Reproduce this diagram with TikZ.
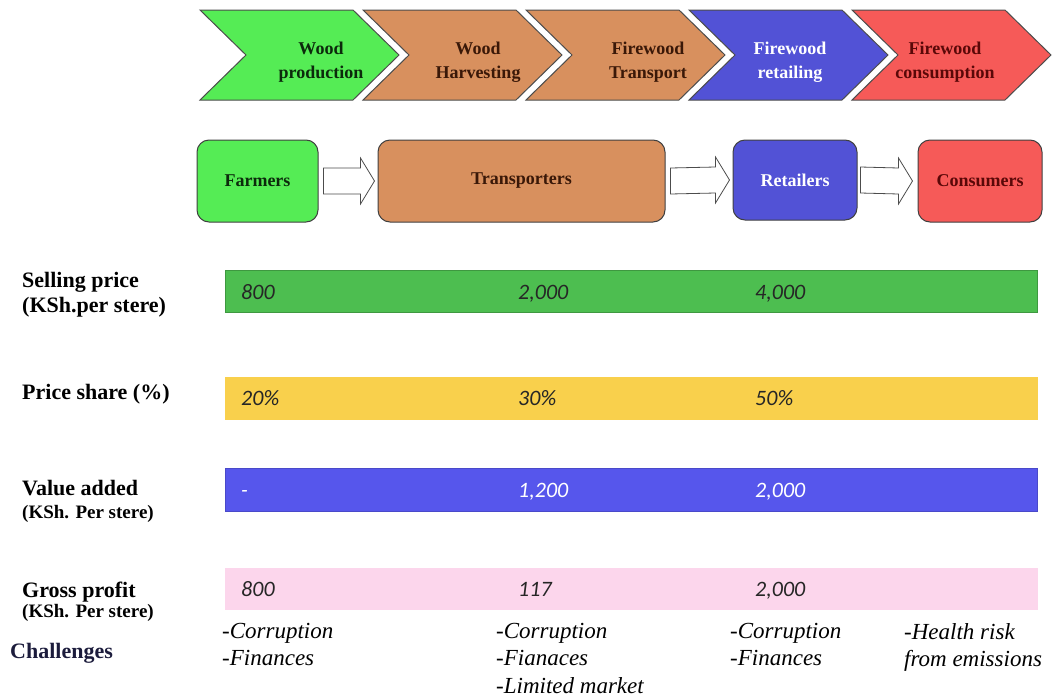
\documentclass[tikz,border=0pt]{standalone}
\usepackage{fontspec}
\setmainfont{Liberation Serif}
\newfontfamily\valfont{Carlito}
\usetikzlibrary{calc}
\definecolor{cgreen}{HTML}{55EC55}
\definecolor{cbrown}{HTML}{D8905E}
\definecolor{cblue}{HTML}{5252D6}
\definecolor{cred}{HTML}{F65A58}
\definecolor{bgreen}{HTML}{4DBE50}
\definecolor{byellow}{HTML}{F9D04C}
\definecolor{bblue}{HTML}{5656EC}
\definecolor{bpink}{HTML}{FCD6EC}
\definecolor{navy}{HTML}{1C1C3C}
\definecolor{dgreentext}{HTML}{0C2A0C}
\definecolor{dbrowntext}{HTML}{3A1808}
\definecolor{dredtext}{HTML}{5A0808}
\newcommand\chevronshape[2]{\draw[chev, fill=#2] (#1,10) -- ++(153,0) -- ++(46,45) -- ++(-46,45) -- ++(-153,0) -- ++(46,-45) -- cycle;}
\newcommand\blockarrowpath[2]{\draw[barrow] ($(#1)+(0,-13)$) -- ($(#2)+(-14,-13)$) -- ($(#2)+(-14,-23)$) -- (#2) -- ($(#2)+(-14,23)$) -- ($(#2)+(-14,13)$) -- ($(#1)+(0,13)$) -- cycle;}
\begin{document}
\begin{tikzpicture}[x=1pt,y=-1pt,
  chev/.style={draw=black!70, line width=1pt},
  chevtext/.style={align=center, inner sep=0pt, font=\bfseries\fontsize{18}{24}\selectfont},
  actor/.style={draw=black!75, line width=1pt, rounded corners=12pt, font=\bfseries\fontsize{18}{20}\selectfont},
  barrow/.style={draw=black!70, fill=white, line width=0.8pt},
  bar/.style={line width=0.6pt},
  lab/.style={anchor=base west, inner sep=0pt, font=\bfseries\fontsize{22}{24}\selectfont},
  labsmall/.style={anchor=base west, inner sep=0pt, font=\bfseries\fontsize{19}{21}\selectfont},
  val/.style={anchor=base west, inner sep=0pt, text=black!85, font=\valfont\itshape\fontsize{22}{24}\selectfont},
  chal/.style={anchor=north west, align=left, inner sep=0pt, font=\itshape\fontsize{23}{27.5}\selectfont}
]
\useasboundingbox (0,0) rectangle (1052,699);

% process chevrons
\chevronshape{200}{cgreen}
\chevronshape{363}{cbrown}
\chevronshape{526}{cbrown}
\chevronshape{689}{cblue}
\chevronshape{852}{cred}
\node[chevtext, text=dgreentext] (c1) at (321,62) {Wood\\production};
\node[chevtext, text=dbrowntext] (c2) at (478,62) {Wood\\Harvesting};
\node[chevtext, text=dbrowntext] (c3) at (648,62) {Firewood\\Transport};
\node[chevtext, text=white] (c4) at (790,62) {Firewood\\retailing};
\node[chevtext, text=dredtext] (c5) at (945,62) {Firewood\\consumption};

% actors
\node[actor, fill=cgreen, text=dgreentext, minimum width=121pt, minimum height=82pt] (farm) at (257.5,181) {Farmers};
\node[actor, fill=cbrown, text=dbrowntext, minimum width=287pt, minimum height=82pt] (trans) at (521.5,181) {Transporters};
\node[actor, fill=cblue, text=white, minimum width=124pt, minimum height=80pt] (ret) at (795,180) {Retailers};
\node[actor, fill=cred, text=dredtext, minimum width=124pt, minimum height=82pt] (cons) at (980,181) {Consumers};

\coordinate (a1s) at ($(farm.east)+(5,0)$);
\coordinate (a1e) at ($(trans.west)+(-3,0)$);
\coordinate (a2s) at ($(trans.east)+(5,0)$);
\coordinate (a2e) at ($(ret.west)+(-3,0)$);
\coordinate (a3s) at ($(ret.east)+(3,0)$);
\coordinate (a3e) at ($(cons.west)+(-5,0)$);
\blockarrowpath{a1s}{a1e}
\blockarrowpath{a2s}{a2e}
\blockarrowpath{a3s}{a3e}

% bars
\draw[bar, fill=bgreen, draw=bgreen!80!black] (225,270) rectangle (1037,312);
\draw[bar, fill=byellow, draw=byellow] (225,377) rectangle (1037,419);
\draw[bar, fill=bblue, draw=bblue!85!black] (225,468) rectangle (1037,511);
\draw[bar, fill=bpink, draw=bpink] (225,568) rectangle (1037,609);

% row labels
\node[lab] (l1a) at (22,287) {Selling price};
\node[lab] (l1b) at (22,312) {(KSh.per stere)};
\node[lab] (l2) at (22,399) {Price share (\%)};
\node[lab] (l3a) at (22,495) {Value added};
\node[labsmall] (l3b) at (22,518) {(KSh. Per stere)};
\node[lab] (l4a) at (22,597) {Gross profit};
\node[labsmall] (l4b) at (22,617) {(KSh. Per stere)};
\node[lab, text=navy] (l5) at (10,658) {Challenges};

% values
\node[val] (v11) at (241,299) {800};
\node[val] (v12) at (518,299) {2,000};
\node[val] (v13) at (755,299) {4,000};
\node[val] (v21) at (241,405) {20\%};
\node[val] (v22) at (518,405) {30\%};
\node[val] (v23) at (755,405) {50\%};
\node[val, text=white] (v31) at (241,497) {-};
\node[val, text=white] (v32) at (518,497) {1,200};
\node[val, text=white] (v33) at (755,497) {2,000};
\node[val] (v41) at (241,596) {800};
\node[val] (v42) at (518,596) {117};
\node[val] (v43) at (755,596) {2,000};

% challenges
\node[chal] (ch1) at (222,623) {-Corruption\\-Finances};
\node[chal] (ch2) at (496,623) {-Corruption\\-Fianaces\\-Limited market};
\node[chal] (ch3) at (730,623) {-Corruption\\-Finances};
\node[chal] (ch4) at (904,623) {-Health risk\\from emissions};
\end{tikzpicture}
\end{document}
